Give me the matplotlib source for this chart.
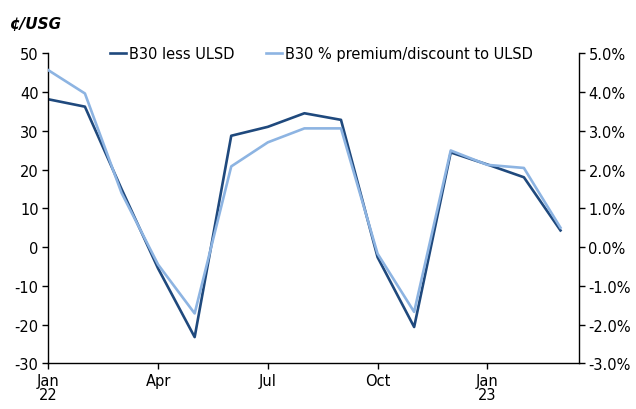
import matplotlib
matplotlib.use("Agg")
import matplotlib.pyplot as plt
from matplotlib.ticker import FuncFormatter

months = ["Jan 22", "Feb 22", "Mar 22", "Apr 22", "May 22", "Jun 22", "Jul 22", "Aug 22",
          "Sep 22", "Oct 22", "Nov 22", "Dec 22", "Jan 23", "Feb 23", "Mar 23"]
b30_less_ulsd = [38.1, 36.2, 15.0, -5.5, -23.2, 28.7, 31.0, 34.5, 32.8, -2.6, -20.6, 24.4, 21.3, 18.0, 4.3]
b30_pct_premium = [4.56, 3.96, 1.40, -0.45, -1.71, 2.08, 2.70, 3.06, 3.06, -0.17, -1.67, 2.49, 2.12, 2.04, 0.50]
tick_labels = ["Jan\n22", "Apr", "Jul", "Oct", "Jan\n23"]
tick_idx = [0, 3, 6, 9, 12]

plt.rcParams['font.family'] = ['DejaVu Sans']
plt.rcParams['axes.unicode_minus'] = False
dark = "#1F497D"
light = "#8DB4E2"

fig = plt.figure(figsize=(6.36, 4.10), dpi=100)
ax = fig.add_axes([0.076, 0.111, 0.834, 0.757])
ax2 = ax.twinx()

x = list(range(len(months)))
l1, = ax.plot(x, b30_less_ulsd, color=dark, lw=1.9, label="B30 less ULSD")
l2, = ax2.plot(x, b30_pct_premium, color=light, lw=1.9, label="B30 % premium/discount to ULSD")

ax.set_xlim(0, 14.5)
ax.set_ylim(-30, 50)
ax.set_yticks(range(-30, 51, 10))
ax2.set_ylim(-3, 5)
ax2.set_yticks(range(-3, 6))
ax2.yaxis.set_major_formatter(FuncFormatter(lambda v, p: f"{v:.1f}%"))
ax.set_xticks(tick_idx)
ax.set_xticklabels(tick_labels, linespacing=0.9)

for a in (ax, ax2):
    a.spines['top'].set_visible(False)
    for s in a.spines.values():
        s.set_linewidth(1.0)
        s.set_color("black")
    a.tick_params(labelsize=10.5, length=4, width=1.0, colors="black", pad=3)
ax.spines['right'].set_visible(False)
ax2.spines['left'].set_visible(False)
ax2.spines['bottom'].set_visible(False)

fig.text(0.016, 0.94, "¢/USG", fontsize=11, fontweight='bold', style='italic', va='center', ha='left')

leg = ax.legend(handles=[l1, l2], loc='center', bbox_to_anchor=(0.515, 1.0), ncol=2,
                frameon=False, fontsize=10.5, handlelength=1.1, handletextpad=0.2,
                columnspacing=2.2, borderaxespad=0)

fig.savefig("out.png", dpi=100)
